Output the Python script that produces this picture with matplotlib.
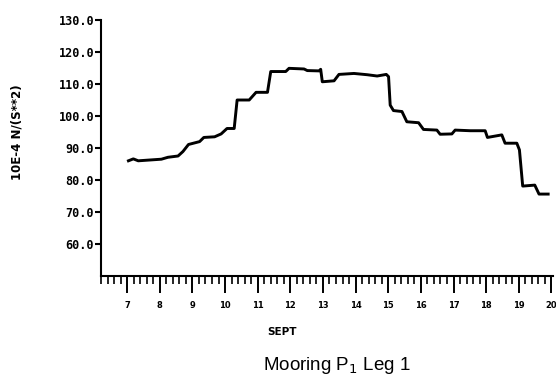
import numpy as np
import matplotlib
matplotlib.use("Agg")
import matplotlib.pyplot as plt
from matplotlib.ticker import MultipleLocator, FixedLocator


# days in September vs value (10E-4 N/(S**2))
days = [7.04, 7.19, 7.34, 8.05, 8.25, 8.56, 8.71, 8.88, 9.22, 9.35, 9.68,
        9.88, 10.06, 10.28, 10.37, 10.74, 10.95, 11.30, 11.40, 11.86, 11.96,
        12.42, 12.52, 12.88, 12.93, 12.98, 13.34, 13.49, 13.95, 14.36, 14.66,
        14.94, 15.01, 15.06, 15.16, 15.42, 15.57, 15.93, 16.08, 16.49, 16.59,
        16.95, 17.05, 17.51, 17.97, 18.04, 18.48, 18.58, 18.94, 19.02, 19.12,
        19.49, 19.62, 19.90]
values = [86.0, 86.6, 86.0, 86.5, 87.1, 87.5, 88.9, 91.1, 92.0, 93.3, 93.5,
          94.4, 96.1, 96.1, 105.0, 105.0, 107.4, 107.4, 113.9, 113.9, 114.9,
          114.7, 114.2, 114.1, 114.6, 110.7, 111.0, 113.0, 113.3, 112.9, 112.5,
          113.0, 112.3, 103.4, 101.7, 101.4, 98.2, 97.9, 95.8, 95.6, 94.3,
          94.4, 95.6, 95.4, 95.4, 93.3, 94.1, 91.5, 91.5, 89.4, 78.1,
          78.4, 75.6, 75.6]

y_ticks = [60, 70, 80, 90, 100, 110, 120, 130]
x_ticks = list(range(7, 21))

fig = plt.figure(figsize=(5.56, 3.88), dpi=100)
ax = fig.add_axes([0.1817, 0.2887, 0.813, 0.6597])

ax.plot(days, values, color="black", lw=2.1, solid_joinstyle="round")

ax.set_xlim(6.2, 20.05)
ax.set_ylim(50, 130)

for s in ["top", "right"]:
    ax.spines[s].set_visible(False)
for s in ["left", "bottom"]:
    ax.spines[s].set_linewidth(1.5)

ax.yaxis.set_major_locator(FixedLocator(y_ticks))
ax.set_yticklabels([f"{v:.1f}" for v in y_ticks],
                   family="DejaVu Sans Mono", fontweight="bold", fontsize=8.5)
ax.xaxis.set_major_locator(FixedLocator(x_ticks))
ax.xaxis.set_minor_locator(MultipleLocator(0.2))
ax.set_xticklabels([str(d) for d in x_ticks],
                   family="DejaVu Sans", fontweight="bold", fontsize=6)

ax.tick_params(axis="y", direction="out", length=4, width=1.5, pad=1)
ax.tick_params(axis="x", which="major", direction="out", length=12,
               width=1.4, pad=6)
ax.tick_params(axis="x", which="minor", direction="out", length=6, width=1.2)

fig.text(0.03, 0.66, "10E-4 N/(S**2)", rotation=90, ha="center",
         va="center", family="DejaVu Sans", fontweight="bold", fontsize=8.5)
fig.text(0.507, 0.145, "SEPT", ha="center", va="center",
         family="DejaVu Sans", fontweight="bold", fontsize=7.5)
fig.text(0.606, 0.058, "Mooring P$_1$ Leg 1", ha="center", va="center",
         family="Liberation Sans", fontsize=13.5)

fig.savefig("out.png", dpi=100)
